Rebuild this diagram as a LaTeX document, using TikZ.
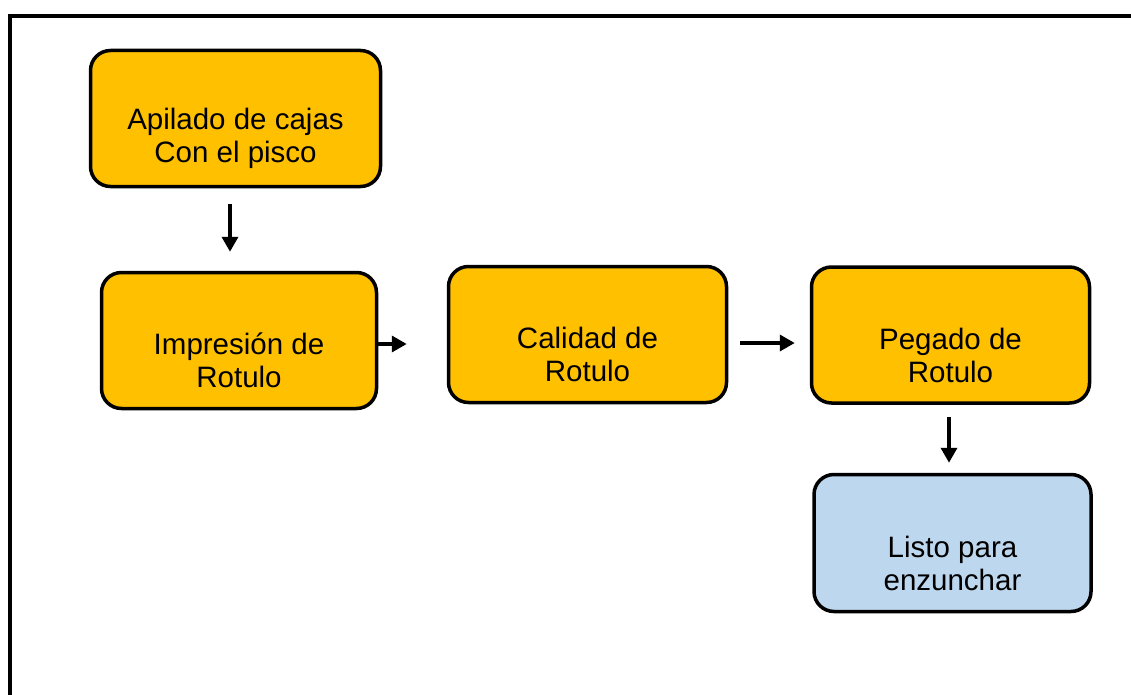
\documentclass[tikz,border=0pt]{standalone}
\usepackage{fontspec}
\setmainfont{Liberation Sans}
\usetikzlibrary{arrows.meta}
\definecolor{oro}{HTML}{FFC000}
\definecolor{celeste}{HTML}{BDD7EE}
\tikzset{
    caja/.style={draw, line width=3.5pt, rounded corners=20pt, fill=oro, inner sep=0pt, minimum height=136pt},
    texto/.style={align=center, font=\fontsize{29.5}{33}\selectfont},
    flecha/.style={line width=3.5pt, -{Triangle[length=15pt,width=16pt]}}
}
\begin{document}
\begin{tikzpicture}[x=1pt,y=-1pt]

        \useasboundingbox (0,0) rectangle (1131,695);
        \draw [line width=4pt] (1140,16) -- (10,16) -- (10,705);

        \node [caja, minimum width=290pt] (apilado) at (235.5,118.5) {};
        \node [caja, minimum width=275pt] (impresion) at (239,340.5) {};
        \node [caja, minimum width=278pt] (calidad) at (587.5,334.5) {};
        \node [caja, minimum width=278pt] (pegado) at (950.5,335) {};
        \node [caja, minimum width=277pt, minimum height=137pt, fill=celeste] (listo) at (952.5,543) {};

        \node [texto] (tapilado) at ([yshift=-20pt]apilado.center) {Apilado de cajas\\Con el pisco};
        \node [texto] (timpresion) at ([yshift=-20pt]impresion.center) {Impresión de\\Rotulo};
        \node [texto] (tcalidad) at ([yshift=-20pt]calidad.center) {Calidad de\\Rotulo};
        \node [texto] (tpegado) at ([yshift=-20pt]pegado.center) {Pegado de\\Rotulo};
        \node [texto] (tlisto) at ([yshift=-20pt]listo.center) {Listo para\\enzunchar};

        \draw [flecha] ([xshift=-5.5pt,yshift=-16pt]apilado.south) -- ([xshift=-9pt,yshift=19pt]impresion.north);
        \draw [flecha, shorten >=40pt] ([yshift=-3.5pt]impresion.east) -- ([yshift=-9.5pt]calidad.west);
        \draw [flecha, shorten <=12pt, shorten >=15pt] ([yshift=-8.5pt]calidad.east) -- ([yshift=-8pt]pegado.west);
        \draw [flecha, shorten <=12pt, shorten >=10pt] ([xshift=-1.5pt]pegado.south) -- ([xshift=-3.5pt]listo.north);

    \end{tikzpicture}
\end{document}
